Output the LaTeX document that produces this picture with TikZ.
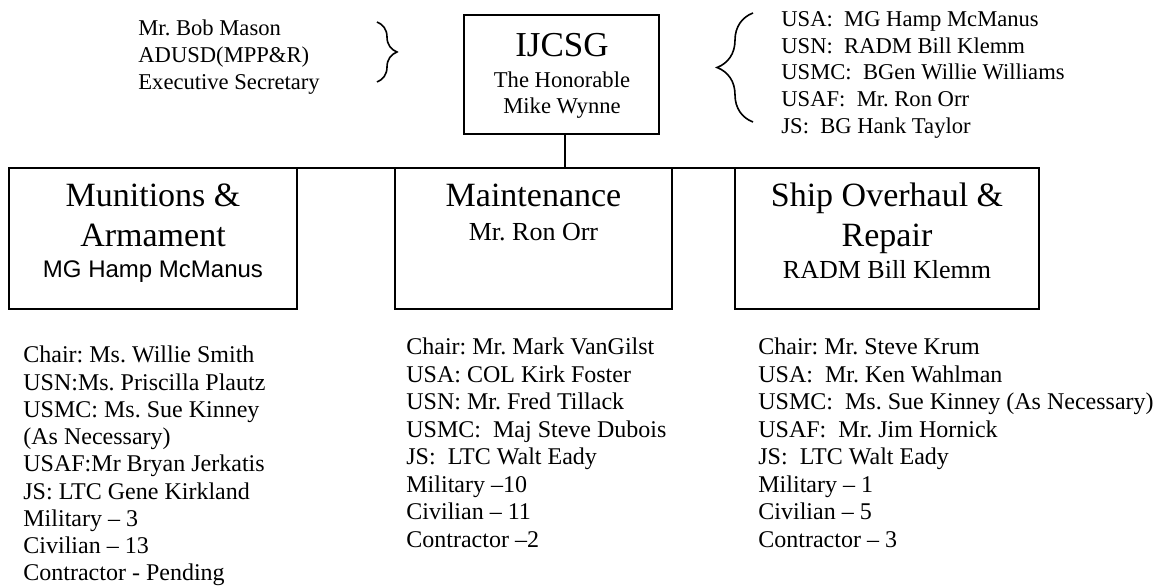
\documentclass[tikz,border=0pt]{standalone}
\usepackage{fontspec}
\setmainfont{Liberation Serif}
\setsansfont{Liberation Sans}
\usetikzlibrary{decorations.pathreplacing}
\frenchspacing

\begin{document}
\begin{tikzpicture}[x=0.5pt, y=-0.5pt,
  box/.style={draw, line width=0.9pt, inner sep=0pt, outer sep=0pt},
  big/.style={font=\fontsize{17}{20}\selectfont, anchor=base, inner sep=0pt},
  sub/.style={font=\fontsize{13}{15}\selectfont, anchor=base, inner sep=0pt},
  item/.style={font=\fontsize{12}{14}\selectfont, anchor=base west, inner sep=0pt},
  note/.style={font=\fontsize{11.3}{13}\selectfont, anchor=base west, inner sep=0pt},
  link/.style={line width=0.9pt},
  curly/.style={decorate, decoration={brace, amplitude=#1}, line width=0.8pt}
]
\useasboundingbox (0,0) rectangle (1158,587);

% ---- top: IJCSG ----
\node[box, minimum width=97.5pt, minimum height=59.5pt] (ijcsg) at (561.5,74.5) {};
\node[big, font=\fontsize{17.5}{20}\selectfont] (ijT) at (562,57) {IJCSG};
\node[note, anchor=base] (ijH) at (562,88) {The Honorable};
\node[note, anchor=base] (ijM) at (562,114) {Mike Wynne};

% executive secretary, left of the box
\foreach \i/\txt in {0/{Mr. Bob Mason},1/{ADUSD(MPP\&R)},2/{Executive Secretary}}{
  \node[note] (sec\i) at (138,35.5+27*\i) {\txt};
}
\coordinate (secTop) at (377,22);
\coordinate (secBot) at (377,82);
\draw[curly=10pt] (secTop) -- (secBot);

% service members, right of the box
\foreach \i/\txt in {0/{USA:\ \ MG Hamp McManus},1/{USN:\ \ RADM Bill Klemm},
    2/{USMC:\ \ BGen Willie Williams},3/{USAF:\ \ Mr. Ron Orr},4/{JS:\ \ BG Hank Taylor}}{
  \node[note] (svc\i) at (781,26.5+26.7*\i) {\txt};
}
\coordinate (svcTop) at (753,13);
\coordinate (svcBot) at (753,122);
\draw[curly=18pt] (svcBot) -- (svcTop);

% ---- subgroups ----
\node[box, minimum width=144pt, minimum height=70.5pt] (mun) at (153,238.5) {};
\node[big] (munA) at (153,207) {Munitions \&};
\node[big] (munB) at (153,247) {Armament};
\node[sub, font=\sffamily\fontsize{12}{14}\selectfont] (munC) at (153,278) {MG Hamp McManus};

\node[box, minimum width=138.5pt, minimum height=70.5pt] (maint) at (533.5,238.5) {};
\node[big] (maintA) at (533.5,207) {Maintenance};
\node[sub] (maintB) at (533.5,241) {Mr. Ron Orr};

\node[box, minimum width=152pt, minimum height=70.5pt] (ship) at (887,238.5) {};
\node[big] (shipA) at (887,207) {Ship Overhaul \&};
\node[big] (shipB) at (887,247) {Repair};
\node[sub] (shipC) at (887,279) {RADM Bill Klemm};

\draw[link] ([xshift=1.75pt]ijcsg.south) -- ([xshift=1.75pt]ijcsg.south |- maint.north);
\draw[link] (mun.north east) -- (maint.north west);
\draw[link] (maint.north east) -- (ship.north west);

% ---- members under each box ----
\foreach \i/\txt in {0/{Chair: Ms. Willie Smith},1/{USN:Ms. Priscilla Plautz},
    2/{USMC: Ms. Sue Kinney},3/{(As Necessary)},4/{USAF:Mr Bryan Jerkatis},
    5/{JS: LTC Gene Kirkland},6/{Military – 3},7/{Civilian – 13},8/{Contractor - Pending}}{
  \node[item] (munL\i) at (23,363+27.25*\i) {\txt};
}
\foreach \i/\txt in {0/{Chair: Mr. Mark VanGilst},1/{USA: COL Kirk Foster},
    2/{USN: Mr. Fred Tillack},3/{USMC:\ \ Maj Steve Dubois},4/{JS:\ \ LTC Walt Eady},
    5/{Military –10},6/{Civilian – 11},7/{Contractor –2}}{
  \node[item] (maintL\i) at (406,355+27.5*\i) {\txt};
}
\foreach \i/\txt in {0/{Chair: Mr. Steve Krum},1/{USA:\ \ Mr. Ken Wahlman},
    2/{USMC:\ \ Ms. Sue Kinney (As Necessary)},3/{USAF:\ \ Mr. Jim Hornick},
    4/{JS:\ \ LTC Walt Eady},5/{Military – 1},6/{Civilian – 5},7/{Contractor – 3}}{
  \node[item] (shipL\i) at (758,355+27.5*\i) {\txt};
}
\end{tikzpicture}
\end{document}
